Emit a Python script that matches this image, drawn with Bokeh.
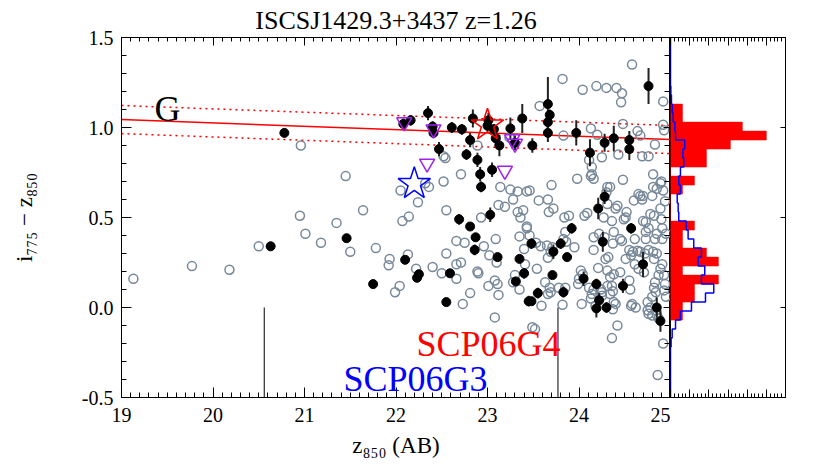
import math
from bokeh.plotting import figure
from bokeh.layouts import row
from bokeh.models import Range1d, LinearAxis, FixedTicker, Label
from bokeh.embed import file_html
from bokeh.resources import INLINE

# ---------------- data ----------------
title_text = "ISCSJ1429.3+3437 z=1.26"
x_label = "z\u2088\u2085\u2080 (AB)"
y_label = "i\u2087\u2087\u2085 \u2212 z\u2088\u2085\u2080"

# all galaxies (open grey circles): z850, i775-z850
gray_x = [19.13, 19.77, 20.18, 20.50, 20.96, 20.95, 21.01, 21.18, 21.35, 21.45, 21.50, 21.64, 21.78,
          22.52, 22.54, 22.05, 22.32, 22.36, 22.52, 22.24, 22.71, 22.55, 22.07, 22.14, 22.89, 23.14,
          23.25, 23.33, 23.43, 23.28, 23.12, 23.19, 23.33, 23.39, 23.36, 23.43, 22.93, 23.24,
          23.57, 23.82, 23.83, 24.04, 24.19, 24.30, 24.41, 24.47, 24.46, 24.58, 24.92, 24.13, 24.20,
          24.48, 24.64, 24.67, 24.83, 24.92, 24.43, 24.25, 24.69, 24.76, 24.11, 24.14, 24.14, 24.16,
          24.13, 23.98, 24.48, 24.81, 24.90, 24.85, 23.70, 23.46, 24.31, 24.34, 24.30, 23.56, 23.66,
          23.67, 23.72, 23.84, 23.89, 24.06, 24.09, 24.27, 24.36, 24.31, 24.40, 24.42, 24.52, 24.51,
          24.49, 24.60, 24.65, 24.69, 24.67, 24.70, 24.73, 24.78, 24.82, 24.89, 24.90, 24.94, 24.92,
          24.91, 24.93, 24.89, 24.81, 24.80, 24.70,
          21.93, 21.92, 22.13, 22.22, 22.04, 21.99, 22.40, 22.50, 22.55, 22.66, 22.71, 22.66, 22.66,
          22.75, 22.96, 22.89, 22.90, 23.02, 23.09, 23.10, 23.08, 23.11, 23.01, 23.12, 22.81, 22.73,
          23.08, 23.35, 23.40, 23.43, 23.41, 23.28, 23.30, 23.35,
          23.46, 23.53, 23.58, 23.66, 23.69, 23.65, 23.71, 23.83, 23.86, 23.95, 23.85, 23.54, 23.63,
          23.68, 23.66, 23.69, 23.59, 23.78, 23.85, 23.82, 23.49, 23.52, 24.02, 24.04, 24.00, 23.99,
          24.03, 24.16, 24.21, 24.29, 24.32, 24.16, 24.22, 24.28, 24.38, 24.37, 24.45, 24.47, 24.11,
          24.16, 24.14, 24.13, 24.24, 24.25, 24.31, 24.36, 24.37, 24.34, 24.25, 24.18, 24.38, 24.37,
          24.40, 24.42, 24.36, 24.34, 24.38, 24.31, 24.45, 24.55, 24.56, 24.58, 24.62, 24.51, 24.57,
          24.61, 24.65, 24.71, 24.55, 24.59, 24.64, 24.67, 24.72, 24.76, 24.81, 24.85, 24.61, 24.73,
          24.73, 24.83, 24.76, 24.85, 24.91, 24.95, 24.82, 24.91, 24.89, 24.87, 24.93, 24.94, 24.83,
          24.82, 24.84, 24.80, 24.93, 24.95, 24.75, 24.78, 24.76, 24.80, 24.75, 24.84, 24.57, 24.85,
          24.87, 24.92, 24.86]
gray_y = [0.16, 0.23, 0.21, 0.34, 0.90, 0.51, 0.41, 0.36, 0.47, 0.73, 0.31, 0.54, 0.33,
          0.84, 0.83, 0.65, 0.69, 0.67, 0.70, 0.585, 0.74, 0.54, 0.48, 0.505, 0.90, 0.67,
          0.655, 0.645, 0.645, 0.60, 0.57, 0.56, 0.53, 0.54, 0.50, 0.45, 0.50, 0.945,
          1.12, 1.27, 0.955, 1.21, 1.23, 1.22, 1.22, 1.19, 1.14, 1.35, 1.145, 0.995, 0.96,
          1.02, 0.98, 0.955, 0.905, 1.015, 0.85, 0.835, 0.84, 0.84, 0.82, 0.78, 0.74, 0.715,
          0.73, 0.715, 0.71, 0.74, 0.70, 0.66, 0.68, 0.65, 0.67, 0.67, 0.64, 0.595, 0.60,
          0.53, 0.55, 0.50, 0.51, 0.51, 0.525, 0.50, 0.48, 0.575, 0.55, 0.565, 0.53, 0.50,
          0.49, 0.595, 0.63, 0.60, 0.62, 0.48, 0.475, 0.52, 0.51, 0.55, 0.49, 0.59, 0.65,
          0.44, 0.985, 0.69, 0.67, 0.62, 0.62,
          0.27, 0.235, 0.295, 0.215, 0.12, 0.085, 0.225, 0.19, 0.30, 0.24, 0.25, 0.16, 0.37,
          0.36, 0.34, 0.20, 0.19, 0.29, 0.38, 0.25, 0.15, 0.13, 0.12, 0.07, 0.08, 0.02,
          -0.055, 0.395, 0.325, 0.44, 0.24, 0.14, 0.18, 0.10,
          0.40, 0.36, 0.34, 0.276, 0.31, 0.345, 0.335, 0.38, 0.365, 0.335, 0.42, 0.215, 0.14,
          0.11, 0.075, 0.085, 0.01, 0.11, 0.11, 0.015, -0.11, -0.12, 0.205, 0.185, 0.16, 0.13,
          0.02, 0.32, 0.22, 0.27, 0.28, 0.39, 0.41, 0.39, 0.42, 0.355, 0.38, 0.37, 0.11,
          0.10, 0.075, 0.05, 0.10, 0.085, 0.12, 0.12, 0.09, 0.075, 0.065, 0.01, 0.03, -0.01,
          0.02, -0.10, -0.17, 0.17, 0.185, 0.205, 0.196, 0.15, 0.10, 0.02, 0.0, 0.27, 0.29,
          0.24, 0.215, 0.195, 0.32, 0.31, 0.315, 0.31, 0.30, 0.32, 0.31, 0.30, 0.38, 0.38,
          0.42, 0.38, 0.44, 0.41, 0.38, 0.41, 0.27, 0.24, 0.215, 0.18, 0.18, 0.13, 0.14,
          0.11, 0.085, 0.06, 0.095, 0.06, 0.03, 0.0, -0.035, -0.045, -0.015, -0.015, 0.01, -0.04,
          -0.06, -0.20, -0.375]

# galaxies with colour errors (filled black circles)
mem_x = [20.78, 20.63, 21.46, 21.75, 22.08, 22.16, 22.35, 22.40, 22.41, 22.47, 22.61, 22.72, 22.84,
         22.81, 22.77, 22.89, 22.92, 22.93, 23.01, 23.00, 23.07, 23.09, 23.13, 23.05, 23.25, 23.30,
         23.38, 22.69, 22.81, 23.03, 23.49, 23.66, 23.68, 23.66, 23.66, 23.97, 24.76, 24.12, 24.28,
         24.38, 24.55, 24.55, 24.28, 24.21, 23.92, 24.57, 22.10, 22.25, 22.23, 22.59, 22.87, 22.86,
         23.11, 22.55, 23.35, 23.40, 23.31, 23.45, 23.48, 23.72, 23.80, 23.87, 23.71, 23.55, 23.48,
         23.83, 24.05, 24.26, 24.19, 24.22, 24.19, 24.30, 24.48, 24.70, 24.85, 24.89]
mem_y = [0.97, 0.34, 0.385, 0.13, 1.02, 1.04, 1.08, 1.005, 0.97, 0.88, 1.00, 0.99, 1.05,
         0.93, 0.85, 0.82, 0.74, 0.67, 1.04, 1.01, 0.99, 0.94, 0.90, 0.765, 0.995, 0.915,
         1.05, 0.49, 0.45, 0.515, 0.90, 1.13, 1.07, 1.03, 0.97, 0.97, 1.23, 0.86, 0.915,
         0.94, 0.93, 0.88, 0.615, 0.55, 0.44, 0.44, 0.265, 0.185, 0.165, 0.19, 0.39, 0.32,
         0.28, 0.03, 0.27, 0.19, 0.145, 0.035, 0.355, 0.31, 0.355, 0.28, 0.18, 0.08, 0.035,
         0.085, 0.16, 0.365, 0.13, 0.04, -0.005, 0.0, 0.12, 0.24, 0.0, -0.075]
mem_err = [0.02, 0.02, 0.02, 0.02, 0.03, 0.03, 0.04, 0.03, 0.03, 0.04, 0.03, 0.03, 0.05,
           0.04, 0.03, 0.04, 0.04, 0.03, 0.04, 0.03, 0.03, 0.04, 0.06, 0.04, 0.06, 0.04,
           0.08, 0.03, 0.02, 0.04, 0.04, 0.15, 0.03, 0.04, 0.05, 0.07, 0.10, 0.075, 0.05,
           0.07, 0.05, 0.06, 0.04, 0.06, 0.03, 0.03, 0.02, 0.02, 0.02, 0.02, 0.02, 0.03,
           0.02, 0.02, 0.02, 0.03, 0.02, 0.03, 0.03, 0.04, 0.03, 0.02, 0.02, 0.03, 0.02,
           0.03, 0.04, 0.055, 0.03, 0.04, 0.05, 0.03, 0.04, 0.07, 0.055, 0.06]

# spectroscopic members (open purple down-triangles)
spec_x = [22.09, 22.41, 22.34, 23.19, 23.27, 23.30]
spec_y = [1.03, 0.99, 0.80, 0.76, 0.935, 0.91]

# supernova hosts (stars)
sn_names = ["SCP06G4", "SCP06G3"]
sn_colors = ["red", "blue"]
sn_x = [23.00, 22.20]
sn_y = [1.013, 0.687]

# red-sequence fit and its scatter
cmr_x = [19.0, 25.0]
cmr_y = [1.044, 0.933]
cmr_scatter = 0.078

# magnitude markers (vertical lines)
mark_x = [20.56, 23.77]
mark_y = [-0.5, 0.0]

# colour histograms (bins 0.05 wide, upper edges listed)
red_hist_top = [1.13 - 0.05 * i for i in range(24)]
red_hist_counts = [1, 1, 6, 8, 5, 3, 3, 0, 2, 1, 0, 0, 0, 2, 1, 1, 3, 4, 1, 4, 2, 2, 1, 1]
blue_hist_top = [1.23 - 0.05 * i for i in range(29)]
blue_hist_vals = [0.03, 0.08, 0.14, 0.22, 0.36, 0.42, 1.19, 1.03, 1.11, 0.83, 0.69, 0.83, 0.56, 0.64,
                  0.69, 1.31, 1.47, 1.94, 2.58, 2.31, 2.86, 2.58, 3.61, 2.92, 1.75, 0.83, 0.42, 0.14, 0.05]
bin_w = 0.05

x_ticks = [19, 20, 21, 22, 23, 24, 25]
y_ticks = [-0.5, 0.0, 0.5, 1.0, 1.5]
y_tick_labels = ["-0.5", "0.0", "0.5", "1.0", "1.5"]

# ---------------- layout ----------------
FONT = "Liberation Serif"
FRAME_L, FRAME_T = 121, 37
MAIN_W, HIST_W = 549, 115
FRAME_H = 360
TOTAL_H = 462
BOT = TOTAL_H - FRAME_T - FRAME_H

X0, X1, Y0, Y1 = 19.0, 25.0, -0.5, 1.5


def dx(px):  # page pixel -> data x (main panel)
    return X0 + (px - FRAME_L) / MAIN_W * (X1 - X0)


def dy(py):
    return Y1 - (py - FRAME_T) / FRAME_H * (Y1 - Y0)


def style_axis(ax, major_in, minor_in, show_labels=True, standoff=8):
    ax.axis_line_color = "black"
    ax.axis_line_width = 1
    ax.major_tick_in = major_in
    ax.major_tick_out = 0
    ax.minor_tick_in = minor_in
    ax.minor_tick_out = 0
    ax.major_tick_line_color = "black"
    ax.minor_tick_line_color = "black"
    ax.major_tick_line_width = 1
    ax.minor_tick_line_width = 1
    ax.major_label_text_font = FONT
    ax.major_label_standoff = standoff
    if show_labels:
        ax.major_label_text_font_size = "20px"
        ax.major_label_text_color = "black"
    else:
        ax.major_label_text_font_size = "0px"
        ax.major_label_text_color = None
        ax.major_label_standoff = 0


p = figure(width=FRAME_L + MAIN_W, height=TOTAL_H,
           x_range=Range1d(X0, X1), y_range=Range1d(Y0, Y1),
           x_axis_location=None, y_axis_location=None,
           output_backend="svg", toolbar_location=None,
           min_border_left=FRAME_L, min_border_right=0,
           min_border_top=FRAME_T, min_border_bottom=BOT)
p.grid.visible = False
p.outline_line_color = "black"
p.background_fill_color = "white"
p.border_fill_color = "white"

p.title.text = title_text
p.title.align = "center"
p.title.offset = 12
p.title.text_font = FONT
p.title.text_font_size = "26px"
p.title.text_font_style = "normal"
p.title.text_color = "black"
p.title.standoff = 6

xt = FixedTicker(ticks=x_ticks, minor_ticks=[19 + 0.1 * i for i in range(61)])
yt = FixedTicker(ticks=y_ticks, minor_ticks=[-0.5 + 0.1 * i for i in range(21)])

ax_b = LinearAxis(ticker=xt)
style_axis(ax_b, 10, 5, True, 10)
ax_b.axis_label = x_label
ax_b.axis_label_text_font = FONT
ax_b.axis_label_text_font_size = "23px"
ax_b.axis_label_text_font_style = "normal"
ax_b.axis_label_text_color = "black"
ax_b.axis_label_standoff = 8
p.add_layout(ax_b, "below")
ax_t = LinearAxis(ticker=xt)
style_axis(ax_t, 8, 4, False)
p.add_layout(ax_t, "above")
ax_l = LinearAxis(ticker=yt)
style_axis(ax_l, 10, 5, True, 8)
ax_l.major_label_overrides = {t: s for t, s in zip(y_ticks, y_tick_labels)}
ax_l.axis_label = y_label
ax_l.axis_label_text_font = FONT
ax_l.axis_label_text_font_size = "23px"
ax_l.axis_label_text_font_style = "normal"
ax_l.axis_label_text_color = "black"
ax_l.axis_label_standoff = 42
p.add_layout(ax_l, "left")
ax_r = LinearAxis(ticker=yt)
style_axis(ax_r, 7, 6, False)
p.add_layout(ax_r, "right")

# red sequence
p.line(cmr_x, cmr_y, color="red", line_width=1.5)
p.line(cmr_x, [v + cmr_scatter for v in cmr_y], color="red", line_width=1.5, line_dash="2 4")
p.line(cmr_x, [v - cmr_scatter for v in cmr_y], color="red", line_width=1.5, line_dash="2 4")

# magnitude markers
p.segment(x0=mark_x, y0=[mark_y[0]] * len(mark_x), x1=mark_x, y1=[mark_y[1]] * len(mark_x),
          color="black", line_width=1)

# galaxies
p.scatter(gray_x, gray_y, marker="circle", size=9, fill_color=None,
          line_color="#778899", line_width=1.5)
p.segment(x0=mem_x, y0=[y - e for y, e in zip(mem_y, mem_err)],
          x1=mem_x, y1=[y + e for y, e in zip(mem_y, mem_err)],
          color="#222222", line_width=2)
p.scatter(mem_x, mem_y, marker="circle", size=9, fill_color="black", line_color="black")
p.scatter(spec_x, spec_y, marker="inverted_triangle", size=15, fill_color=None,
          line_color="#a020f0", line_width=1.5)
p.scatter(sn_x, sn_y, marker="star", size=34, fill_color=None,
          line_color=sn_colors, line_width=1.5)

# texts inside the panel
p.add_layout(Label(x=dx(154), y=dy(108), text="G", text_font=FONT, text_font_size="36px",
                   text_align="left", text_baseline="alphabetic", text_color="black"))
p.add_layout(Label(x=dx(416), y=dy(343), text=sn_names[0], text_font=FONT, text_font_size="36px",
                   text_align="left", text_baseline="alphabetic", text_color=sn_colors[0]))
p.add_layout(Label(x=dx(343), y=dy(378), text=sn_names[1], text_font=FONT, text_font_size="36px",
                   text_align="left", text_baseline="alphabetic", text_color=sn_colors[1]))

# ---------------- histogram panel ----------------
HX1 = 9.6
h = figure(width=HIST_W + 29, height=TOTAL_H,
           x_range=Range1d(0, HX1), y_range=Range1d(Y0, Y1),
           x_axis_location=None, y_axis_location=None,
           output_backend="svg", toolbar_location=None,
           min_border_left=0, min_border_right=29,
           min_border_top=FRAME_T, min_border_bottom=BOT)
h.grid.visible = False
h.outline_line_color = "black"
h.border_fill_color = "white"

ht = FixedTicker(ticks=[1.6 * i for i in range(7)], minor_ticks=[0.32 * i for i in range(31)])
for loc in ("above", "below"):
    a = LinearAxis(ticker=ht)
    style_axis(a, 8, 4, False)
    h.add_layout(a, loc)
hr = LinearAxis(ticker=FixedTicker(ticks=y_ticks, minor_ticks=[]))
style_axis(hr, 5, 0, False)
h.add_layout(hr, "right")

h.hbar(y=[t - bin_w / 2 for t in red_hist_top], height=bin_w, left=0, right=red_hist_counts,
       fill_color="red", line_color="red", line_width=0.5)

bx, by = [0.0, 0.0], [Y1, blue_hist_top[0]]
for t, v in zip(blue_hist_top, blue_hist_vals):
    bx += [v, v]
    by += [t, t - bin_w]
bx += [0.0, 0.0]
by += [by[-1], Y0]
h.line(bx, by, color="blue", line_width=1.5)

layout = row(p, h)
open("out.html", "w").write(file_html(layout, INLINE))
